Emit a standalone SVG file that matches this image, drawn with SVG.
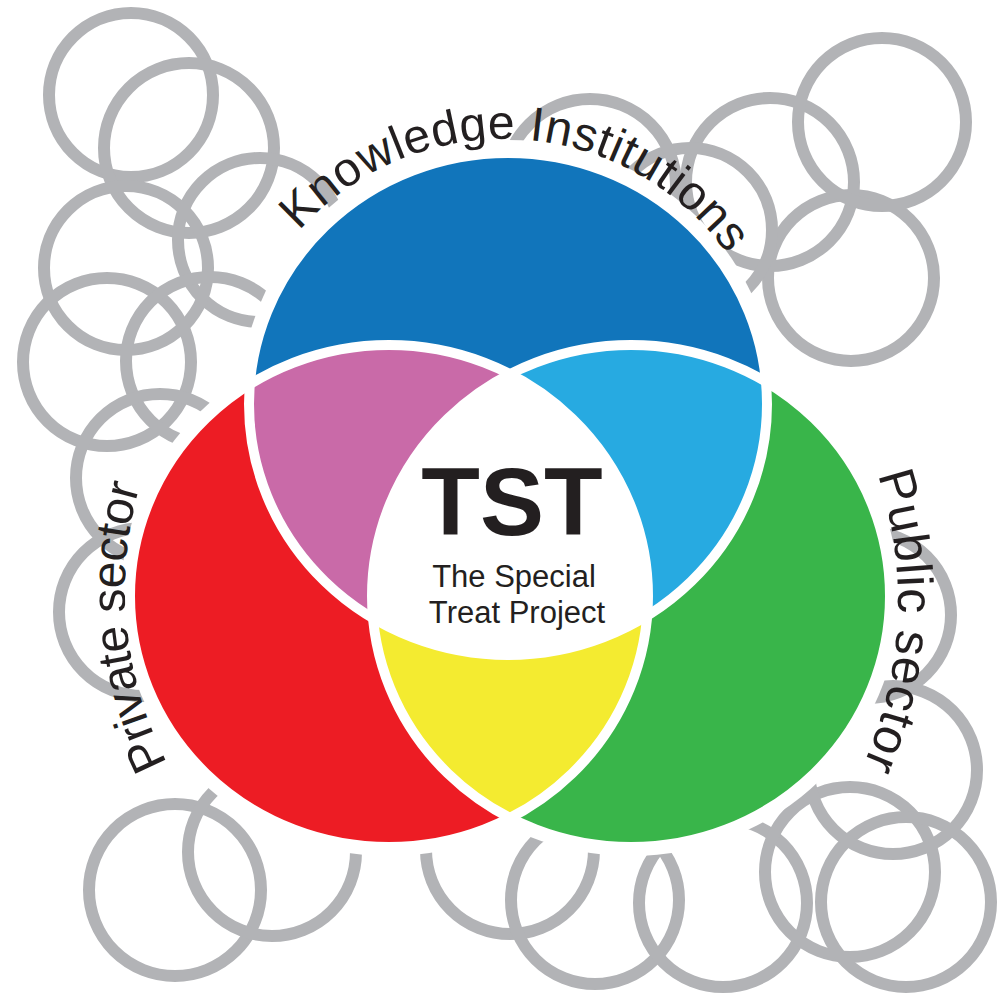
<svg xmlns="http://www.w3.org/2000/svg" width="998" height="994" viewBox="0 0 998 994">
<style>
.ring{fill:none;stroke:#B2B3B6;stroke-width:12}
.halo{fill:#fff}
.edge{fill:none;stroke:#fff;stroke-width:10}
.lbl{font-family:"Liberation Sans",Arial,Helvetica,sans-serif;fill:#231F20}
</style>
<defs>
<clipPath id="cB"><ellipse cx="508" cy="404" rx="259" ry="251"/></clipPath>
<clipPath id="cR"><ellipse cx="389" cy="596" rx="259" ry="251"/></clipPath>
<clipPath id="cG"><ellipse cx="631" cy="596" rx="259" ry="251"/></clipPath>
<path id="pK" d="M 230,413 A 274 274 0 0 1 778,413"/>
<path id="pPriv" d="M 212.7,831 A 375 375 0 0 1 175.2,402.5"/>
<path id="pPub" d="M 844.1,400 A 402 402 0 0 1 825.3,831.6"/>
</defs>
<rect width="998" height="994" fill="#fff"/>
<g id="rings">
<circle class="ring" cx="131" cy="95" r="82"/>
<circle class="ring" cx="189" cy="148" r="85"/>
<circle class="ring" cx="260" cy="240" r="82"/>
<circle class="ring" cx="126" cy="268" r="82"/>
<circle class="ring" cx="107" cy="362" r="84"/>
<circle class="ring" cx="210" cy="361" r="84"/>
<circle class="ring" cx="160" cy="478" r="84"/>
<circle class="ring" cx="143" cy="612" r="84"/>
<circle class="ring" cx="175" cy="890" r="86"/>
<circle class="ring" cx="272" cy="852" r="84"/>
<circle class="ring" cx="510" cy="850" r="84"/>
<circle class="ring" cx="595" cy="900" r="84"/>
<circle class="ring" cx="723" cy="903" r="84"/>
<circle class="ring" cx="850" cy="872" r="85"/>
<circle class="ring" cx="906" cy="902" r="85"/>
<circle class="ring" cx="893" cy="770" r="84"/>
<circle class="ring" cx="868" cy="615" r="83"/>
<circle class="ring" cx="851" cy="278" r="83"/>
<circle class="ring" cx="770" cy="182" r="84"/>
<circle class="ring" cx="882" cy="122" r="84"/>
<circle class="ring" cx="690" cy="230" r="82"/>
<circle class="ring" cx="590" cy="185" r="86"/>
</g>
<g id="halo">
<ellipse class="halo" cx="508" cy="404" rx="268" ry="264"/>
<ellipse class="halo" cx="389" cy="596" rx="268" ry="260"/>
<ellipse class="halo" cx="631" cy="596" rx="268" ry="260"/>
</g>
<g id="knowledge-institutions">
<ellipse cx="508" cy="404" rx="259" ry="251" fill="#1175BB"/>
<text class="lbl" font-size="48"><textPath href="#pK" startOffset="199" textLength="492" lengthAdjust="spacing">Knowledge Institutions</textPath></text>
</g>
<g id="private-sector">
<ellipse cx="389" cy="596" rx="259" ry="251" fill="#ED1C24"/>
<text class="lbl" font-size="48"><textPath href="#pPriv" startOffset="82" textLength="285" lengthAdjust="spacing">Private sector</textPath></text>
</g>
<g id="public-sector">
<ellipse cx="631" cy="596" rx="259" ry="251" fill="#39B54A"/>
<text class="lbl" font-size="50"><textPath href="#pPub" startOffset="82" textLength="297" lengthAdjust="spacing">Public sector</textPath></text>
</g>
<g id="overlap-knowledge-private">
<ellipse cx="389" cy="596" rx="259" ry="251" fill="#C96AA8" clip-path="url(#cB)"/>
</g>
<g id="overlap-knowledge-public">
<ellipse cx="631" cy="596" rx="259" ry="251" fill="#27AAE1" clip-path="url(#cB)"/>
</g>
<g id="overlap-private-public">
<ellipse cx="631" cy="596" rx="259" ry="251" fill="#F4EB30" clip-path="url(#cR)"/>
</g>
<g id="tst">
<g clip-path="url(#cR)"><ellipse cx="631" cy="596" rx="259" ry="251" fill="#fff" clip-path="url(#cB)"/></g>
<text class="lbl" x="512" y="535" font-size="96" font-weight="bold" text-anchor="middle">TST</text>
<text class="lbl" x="514" y="587" font-size="31" text-anchor="middle">The Special</text>
<text class="lbl" x="517" y="623" font-size="31" text-anchor="middle">Treat Project</text>
</g>
<g id="outlines">
<ellipse class="edge" cx="508" cy="404" rx="259" ry="251"/>
<ellipse class="edge" cx="389" cy="596" rx="259" ry="251"/>
<ellipse class="edge" cx="631" cy="596" rx="259" ry="251"/>
</g>
</svg>
